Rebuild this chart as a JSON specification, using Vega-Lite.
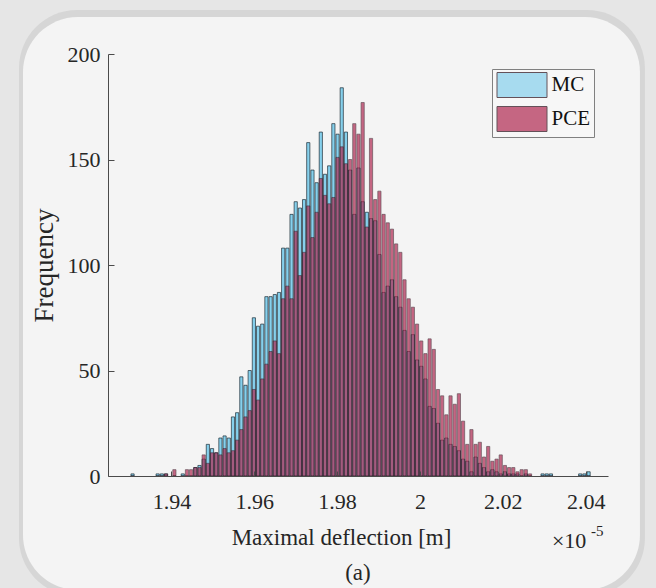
{
  "$schema": "https://vega.github.io/schema/vega-lite/v6.json",
  "width": 500,
  "height": 422,
  "autosize": {"type": "none"},
  "padding": {"left": 108, "top": 54, "right": 48, "bottom": 112},
  "background": "#e6e6e6",
  "config": {
    "view": {"stroke": null},
    "font": "Liberation Serif",
    "style": {"guide-label": {"font": "Liberation Serif"}, "guide-title": {"font": "Liberation Serif"}},
    "axis": {"labelFont": "Liberation Serif", "titleFont": "Liberation Serif", "titleFontWeight": "normal", "grid": false, "zindex": 1},
    "legend": {"labelFont": "Liberation Serif"}
  },
  "data": {"values": [
    {"lo": 1.93000, "hi": 1.93101, "MC": 1, "PCE": 0},
    {"lo": 1.93606, "hi": 1.93707, "MC": 1, "PCE": 0},
    {"lo": 1.93707, "hi": 1.93808, "MC": 1, "PCE": 0},
    {"lo": 1.93808, "hi": 1.93909, "MC": 1, "PCE": 1},
    {"lo": 1.94010, "hi": 1.94111, "MC": 0, "PCE": 3},
    {"lo": 1.94212, "hi": 1.94313, "MC": 1, "PCE": 0},
    {"lo": 1.94313, "hi": 1.94414, "MC": 0, "PCE": 3},
    {"lo": 1.94414, "hi": 1.94515, "MC": 0, "PCE": 3},
    {"lo": 1.94515, "hi": 1.94616, "MC": 4, "PCE": 4},
    {"lo": 1.94616, "hi": 1.94717, "MC": 5, "PCE": 4},
    {"lo": 1.94717, "hi": 1.94818, "MC": 8, "PCE": 10},
    {"lo": 1.94818, "hi": 1.94919, "MC": 15, "PCE": 6},
    {"lo": 1.94919, "hi": 1.95020, "MC": 13, "PCE": 11},
    {"lo": 1.95020, "hi": 1.95121, "MC": 11, "PCE": 11},
    {"lo": 1.95121, "hi": 1.95222, "MC": 18, "PCE": 10},
    {"lo": 1.95222, "hi": 1.95323, "MC": 19, "PCE": 13},
    {"lo": 1.95323, "hi": 1.95424, "MC": 18, "PCE": 11},
    {"lo": 1.95424, "hi": 1.95525, "MC": 28, "PCE": 12},
    {"lo": 1.95525, "hi": 1.95626, "MC": 30, "PCE": 17},
    {"lo": 1.95626, "hi": 1.95727, "MC": 47, "PCE": 22},
    {"lo": 1.95727, "hi": 1.95828, "MC": 43, "PCE": 28},
    {"lo": 1.95828, "hi": 1.95929, "MC": 50, "PCE": 31},
    {"lo": 1.95929, "hi": 1.96030, "MC": 75, "PCE": 41},
    {"lo": 1.96030, "hi": 1.96131, "MC": 71, "PCE": 36},
    {"lo": 1.96131, "hi": 1.96232, "MC": 72, "PCE": 46},
    {"lo": 1.96232, "hi": 1.96333, "MC": 85, "PCE": 53},
    {"lo": 1.96333, "hi": 1.96434, "MC": 85, "PCE": 59},
    {"lo": 1.96434, "hi": 1.96535, "MC": 86, "PCE": 64},
    {"lo": 1.96535, "hi": 1.96636, "MC": 87, "PCE": 58},
    {"lo": 1.96636, "hi": 1.96737, "MC": 108, "PCE": 84},
    {"lo": 1.96737, "hi": 1.96838, "MC": 108, "PCE": 90},
    {"lo": 1.96838, "hi": 1.96939, "MC": 124, "PCE": 84},
    {"lo": 1.96939, "hi": 1.97040, "MC": 130, "PCE": 116},
    {"lo": 1.97040, "hi": 1.97141, "MC": 127, "PCE": 95},
    {"lo": 1.97141, "hi": 1.97242, "MC": 131, "PCE": 106},
    {"lo": 1.97242, "hi": 1.97343, "MC": 158, "PCE": 128},
    {"lo": 1.97343, "hi": 1.97444, "MC": 145, "PCE": 113},
    {"lo": 1.97444, "hi": 1.97545, "MC": 139, "PCE": 125},
    {"lo": 1.97545, "hi": 1.97646, "MC": 163, "PCE": 141},
    {"lo": 1.97646, "hi": 1.97747, "MC": 143, "PCE": 133},
    {"lo": 1.97747, "hi": 1.97848, "MC": 147, "PCE": 129},
    {"lo": 1.97848, "hi": 1.97949, "MC": 167, "PCE": 132},
    {"lo": 1.97949, "hi": 1.98050, "MC": 162, "PCE": 151},
    {"lo": 1.98050, "hi": 1.98151, "MC": 184, "PCE": 156},
    {"lo": 1.98151, "hi": 1.98252, "MC": 163, "PCE": 148},
    {"lo": 1.98252, "hi": 1.98353, "MC": 145, "PCE": 150},
    {"lo": 1.98353, "hi": 1.98454, "MC": 124, "PCE": 167},
    {"lo": 1.98454, "hi": 1.98555, "MC": 146, "PCE": 162},
    {"lo": 1.98555, "hi": 1.98656, "MC": 130, "PCE": 177},
    {"lo": 1.98656, "hi": 1.98757, "MC": 125, "PCE": 118},
    {"lo": 1.98757, "hi": 1.98858, "MC": 122, "PCE": 160},
    {"lo": 1.98858, "hi": 1.98959, "MC": 121, "PCE": 131},
    {"lo": 1.98959, "hi": 1.99060, "MC": 105, "PCE": 135},
    {"lo": 1.99060, "hi": 1.99161, "MC": 87, "PCE": 124},
    {"lo": 1.99161, "hi": 1.99262, "MC": 90, "PCE": 120},
    {"lo": 1.99262, "hi": 1.99363, "MC": 93, "PCE": 117},
    {"lo": 1.99363, "hi": 1.99464, "MC": 85, "PCE": 110},
    {"lo": 1.99464, "hi": 1.99565, "MC": 80, "PCE": 106},
    {"lo": 1.99565, "hi": 1.99666, "MC": 69, "PCE": 93},
    {"lo": 1.99666, "hi": 1.99767, "MC": 59, "PCE": 84},
    {"lo": 1.99767, "hi": 1.99868, "MC": 67, "PCE": 80},
    {"lo": 1.99868, "hi": 1.99969, "MC": 55, "PCE": 72},
    {"lo": 1.99969, "hi": 2.00070, "MC": 52, "PCE": 64},
    {"lo": 2.00070, "hi": 2.00171, "MC": 46, "PCE": 58},
    {"lo": 2.00171, "hi": 2.00272, "MC": 33, "PCE": 65},
    {"lo": 2.00272, "hi": 2.00373, "MC": 32, "PCE": 60},
    {"lo": 2.00373, "hi": 2.00474, "MC": 25, "PCE": 41},
    {"lo": 2.00474, "hi": 2.00575, "MC": 17, "PCE": 38},
    {"lo": 2.00575, "hi": 2.00676, "MC": 18, "PCE": 29},
    {"lo": 2.00676, "hi": 2.00777, "MC": 15, "PCE": 38},
    {"lo": 2.00777, "hi": 2.00878, "MC": 14, "PCE": 34},
    {"lo": 2.00878, "hi": 2.00979, "MC": 12, "PCE": 39},
    {"lo": 2.00979, "hi": 2.01080, "MC": 8, "PCE": 26},
    {"lo": 2.01080, "hi": 2.01181, "MC": 7, "PCE": 15},
    {"lo": 2.01181, "hi": 2.01282, "MC": 2, "PCE": 22},
    {"lo": 2.01282, "hi": 2.01383, "MC": 9, "PCE": 15},
    {"lo": 2.01383, "hi": 2.01484, "MC": 6, "PCE": 16},
    {"lo": 2.01484, "hi": 2.01585, "MC": 4, "PCE": 9},
    {"lo": 2.01585, "hi": 2.01686, "MC": 2, "PCE": 14},
    {"lo": 2.01686, "hi": 2.01787, "MC": 3, "PCE": 7},
    {"lo": 2.01787, "hi": 2.01888, "MC": 2, "PCE": 8},
    {"lo": 2.01888, "hi": 2.01989, "MC": 1, "PCE": 10},
    {"lo": 2.01989, "hi": 2.02090, "MC": 2, "PCE": 5},
    {"lo": 2.02090, "hi": 2.02191, "MC": 1, "PCE": 4},
    {"lo": 2.02191, "hi": 2.02292, "MC": 1, "PCE": 4},
    {"lo": 2.02292, "hi": 2.02393, "MC": 1, "PCE": 2},
    {"lo": 2.02393, "hi": 2.02494, "MC": 0, "PCE": 3},
    {"lo": 2.02494, "hi": 2.02595, "MC": 1, "PCE": 3},
    {"lo": 2.02595, "hi": 2.02696, "MC": 0, "PCE": 1},
    {"lo": 2.02898, "hi": 2.02999, "MC": 1, "PCE": 0},
    {"lo": 2.02999, "hi": 2.03100, "MC": 1, "PCE": 0},
    {"lo": 2.03100, "hi": 2.03201, "MC": 1, "PCE": 0},
    {"lo": 2.03807, "hi": 2.03908, "MC": 1, "PCE": 0},
    {"lo": 2.03908, "hi": 2.04009, "MC": 1, "PCE": 0},
    {"lo": 2.04009, "hi": 2.04110, "MC": 2, "PCE": 0}
  ]},
  "layer": [
    {
      "data": {"values": [{}]},
      "mark": {"type": "rect", "fill": "#d6d6d6", "cornerRadius": 58, "clip": false},
      "encoding": {
        "x": {
          "datum": 1.90322, "type": "quantitative",
          "scale": {"domain": [1.9247, 2.0454], "nice": false, "zero": false},
          "axis": {
            "values": [1.94, 1.96, 1.98, 2, 2.02, 2.04], "format": ".2~f",
            "labelFont": "Liberation Serif", "labelFontSize": 22, "labelColor": "#262626", "labelFlush": false,
            "domainColor": "#4a4a4a", "domainWidth": 1,
            "tickSize": -5, "tickColor": "#4a4a4a", "labelPadding": 20,
            "title": "Maximal deflection [m]", "titleFont": "Liberation Serif", "titleFontSize": 23, "titleColor": "#262626",
            "titleX": 233, "titleY": 68, "titleBaseline": "alphabetic", "titleAlign": "center",
            "zindex": 1
          }
        },
        "x2": {"datum": 2.05431},
        "y": {
          "datum": 220.8, "type": "quantitative",
          "scale": {"domain": [0, 200], "nice": false},
          "axis": {
            "values": [0, 50, 100, 150, 200],
            "labelFont": "Liberation Serif", "labelFontSize": 22, "labelColor": "#262626", "labelFlush": false,
            "domainColor": "#4a4a4a", "domainWidth": 1,
            "tickSize": -6, "tickColor": "#4a4a4a", "labelPadding": 14,
            "title": "Frequency", "titleFont": "Liberation Serif", "titleFontSize": 27, "titleColor": "#262626", "titlePadding": 9,
            "zindex": 1
          }
        },
        "y2": {"datum": -57}
      }
    },
    {
      "data": {"values": [{}]},
      "mark": {"type": "rect", "fill": "#f4f4f4", "cornerRadius": 55, "clip": false},
      "encoding": {
        "x": {"datum": 1.90418, "type": "quantitative"},
        "x2": {"datum": 2.05311},
        "y": {"datum": 217.5, "type": "quantitative"},
        "y2": {"datum": -54}
      }
    },
    {
      "mark": {"type": "bar", "stroke": "#18262f", "strokeWidth": 0.75, "strokeOpacity": 0.9},
      "encoding": {
        "x": {"field": "lo", "type": "quantitative", "bin": "binned"},
        "x2": {"field": "hi"},
        "y": {"field": "MC", "type": "quantitative"},
        "y2": {"datum": 0},
        "color": {
          "datum": "MC", "type": "nominal",
          "scale": {"domain": ["MC", "PCE"], "range": ["#86d0ec", "#b02a52"]},
          "legend": {
            "title": null, "orient": "none", "legendX": 384, "legendY": 15, "direction": "vertical",
            "symbolType": "M-2,-1H2V1H-2Z", "symbolSize": 625, "symbolOffset": 14,
            "symbolStrokeColor": "#222222", "symbolStrokeWidth": 1, "symbolOpacity": 0.7,
            "labelFont": "Liberation Serif", "labelFontSize": 21, "labelColor": "#111111", "labelOffset": 16.5,
            "rowPadding": 4, "padding": 3, "strokeColor": "#808080", "fillColor": "#f7f7f7"
          }
        }
      }
    },
    {
      "mark": {"type": "bar", "stroke": "#260c17", "strokeWidth": 0.75, "strokeOpacity": 0.9, "opacity": 0.7},
      "encoding": {
        "x": {"field": "lo", "type": "quantitative", "bin": "binned"},
        "x2": {"field": "hi"},
        "y": {"field": "PCE", "type": "quantitative"},
        "y2": {"datum": 0},
        "color": {"datum": "PCE", "type": "nominal"}
      }
    },
    {
      "data": {"values": [{}]},
      "mark": {"type": "text", "text": "×10", "font": "Liberation Serif", "fontSize": 22, "color": "#262626", "align": "left", "baseline": "alphabetic", "clip": false},
      "encoding": {
        "x": {"datum": 2.03187, "type": "quantitative"},
        "y": {"datum": -34, "type": "quantitative"}
      }
    },
    {
      "data": {"values": [{}]},
      "mark": {"type": "text", "text": "-5", "font": "Liberation Serif", "fontSize": 15, "color": "#262626", "align": "left", "baseline": "alphabetic", "clip": false},
      "encoding": {
        "x": {"datum": 2.04128, "type": "quantitative"},
        "y": {"datum": -28.5, "type": "quantitative"}
      }
    },
    {
      "data": {"values": [{}]},
      "mark": {"type": "text", "text": "(a)", "font": "Liberation Serif", "fontSize": 23, "color": "#262626", "align": "center", "baseline": "alphabetic", "clip": false},
      "encoding": {
        "x": {"datum": 1.98504, "type": "quantitative"},
        "y": {"datum": -49.3, "type": "quantitative"}
      }
    }
  ]
}
